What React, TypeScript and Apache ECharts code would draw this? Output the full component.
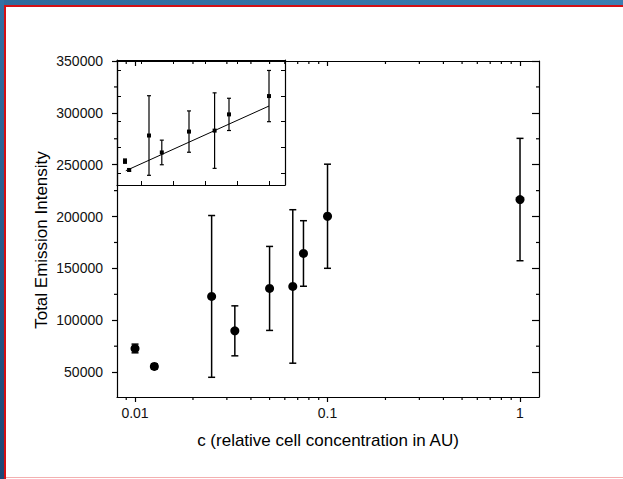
import React, { useEffect, useRef } from "react";
import * as echarts from "echarts";

// ---- data ----
const cValues = [0.01, 0.0126, 0.025, 0.033, 0.05, 0.066, 0.075, 0.1, 1];
const intensity = [72800, 55500, 123000, 89800, 130700, 132600, 164400, 200300, 216400];
const intensityErr = [4200, 2500, 78000, 24100, 40500, 74000, 31600, 50200, 59000];

// inset: linear-scale view of the low-concentration points and a linear fit
const insetCount = 8;
const fitC = [0.0105, 0.1];
const fitI = [54000, 180800];

// axis ranges & ticks
const mainXMin = 0.00806;
const mainXMax = 1.255;
const mainYMin = 26000;
const mainYMax = 350000;
const mainYTicks = [50000, 100000, 150000, 200000, 250000, 300000, 350000];
const mainYMinorTicks = [75000, 125000, 175000, 225000, 275000, 325000];
const mainXTicks = [0.01, 0.1, 1];
const mainXMinorTicks = [0.009, 0.02, 0.03, 0.04, 0.05, 0.06, 0.07, 0.08, 0.09, 0.2, 0.3, 0.4, 0.5, 0.6, 0.7, 0.8, 0.9];

const insetXMin = 0.005;
const insetXMax = 0.11;
const insetYMin = 26000;
const insetYMax = 271000;
const insetXTicks = [0.02, 0.04, 0.06, 0.08, 0.1];
const insetYTicks = [50000, 100000, 150000, 200000, 250000];

const xTitle = "c (relative cell concentration in AU)";
const yTitle = "Total Emission Intensity";

const FONT = "Liberation Sans, Arial, sans-serif";

export default function App() {
  const ref = useRef<HTMLDivElement>(null);

  useEffect(() => {
    if (!ref.current) return;
    const chart = echarts.init(ref.current, undefined, { renderer: "svg" });

    const mainData = cValues.map((c, i) => [c, intensity[i], intensityErr[i]]);
    const insetData = mainData.slice(0, insetCount);

    const errRender = (capHalf: number, lw: number) => (params: any, api: any) => {
      const x = api.value(0);
      const y = api.value(1);
      const e = api.value(2);
      const top = api.coord([x, y + e]);
      const bot = api.coord([x, y - e]);
      const style = { stroke: "#000", lineWidth: lw };
      return {
        type: "group",
        children: [
          { type: "line", shape: { x1: top[0], y1: top[1], x2: bot[0], y2: bot[1] }, style },
          { type: "line", shape: { x1: top[0] - capHalf, y1: top[1], x2: top[0] + capHalf, y2: top[1] }, style },
          { type: "line", shape: { x1: bot[0] - capHalf, y1: bot[1], x2: bot[0] + capHalf, y2: bot[1] }, style },
        ],
      };
    };

    const axisLine = { show: true, onZero: false, lineStyle: { color: "#000", width: 1.2 } };

    const option: any = {
      animation: false,
      backgroundColor: "#fff",
      graphic: [
        {
          type: "rect",
          z: -10,
          shape: { x: 0, y: 0, width: 623, height: 5 },
          style: {
            fill: new echarts.graphic.LinearGradient(0, 0, 1, 0, [
              { offset: 0, color: "#2f6a9c" },
              { offset: 1, color: "#3b7fb2" },
            ]),
          },
        },
        {
          type: "rect",
          z: -10,
          shape: { x: 0, y: 0, width: 4, height: 479 },
          style: {
            fill: new echarts.graphic.LinearGradient(0, 0, 0, 1, [
              { offset: 0, color: "#3270a3" },
              { offset: 1, color: "#1d4775" },
            ]),
          },
        },
        { type: "rect", z: -9, shape: { x: 4, y: 5, width: 619, height: 2 }, style: { fill: "#d40f14" } },
        { type: "rect", z: -9, shape: { x: 4, y: 5, width: 2, height: 474 }, style: { fill: "#d40f14" } },
        { type: "rect", z: -9, shape: { x: 6, y: 477, width: 617, height: 1 }, style: { fill: "#f3b0b0" } },
        {
          type: "text",
          x: 328,
          y: 440,
          style: {
            text: xTitle,
            fontSize: 17,
            fontFamily: FONT,
            fill: "#000",
            align: "center",
            verticalAlign: "middle",
          },
        },
        {
          type: "text",
          x: 41,
          y: 240,
          rotation: Math.PI / 2,
          style: {
            text: yTitle,
            fontSize: 17,
            fontFamily: FONT,
            fill: "#000",
            align: "center",
            verticalAlign: "middle",
          },
        },
      ],
      grid: [
        { left: 117, top: 61, width: 422, height: 336, show: false },
        { left: 117, top: 60, width: 168, height: 125, show: true, backgroundColor: "#fff", borderWidth: 0 },
      ],
      xAxis: [
        {
          type: "log",
          gridIndex: 0,
          position: "bottom",
          logBase: 10,
          min: mainXMin,
          max: mainXMax,
          axisLine,
          axisTick: { show: true, inside: false, length: 5, customValues: mainXTicks, lineStyle: { color: "#000", width: 1.2 } },
          axisLabel: {
            show: true,
            margin: 9,
            fontSize: 14,
            fontFamily: FONT,
            color: "#111",
            customValues: mainXTicks,
            formatter: (v: number) => String(+Number(v).toPrecision(6)),
          },
          splitLine: { show: false },
        },
        {
          type: "log",
          gridIndex: 0,
          position: "top",
          logBase: 10,
          min: mainXMin,
          max: mainXMax,
          axisLine,
          axisTick: { show: true, inside: true, length: 5, customValues: mainXTicks, lineStyle: { color: "#000", width: 1.2 } },
          axisLabel: { show: false },
          splitLine: { show: false },
        },
        {
          type: "value",
          gridIndex: 1,
          position: "bottom",
          min: insetXMin,
          max: insetXMax,
          axisLine,
          axisTick: { show: true, inside: true, length: 4, customValues: insetXTicks, lineStyle: { color: "#000" } },
          axisLabel: { show: false },
          splitLine: { show: false },
        },
        {
          type: "value",
          gridIndex: 1,
          position: "top",
          min: insetXMin,
          max: insetXMax,
          axisLine,
          axisTick: { show: true, inside: true, length: 4, customValues: insetXTicks, lineStyle: { color: "#000" } },
          axisLabel: { show: false },
          splitLine: { show: false },
        },
      ],
      yAxis: [
        {
          type: "value",
          gridIndex: 0,
          position: "left",
          min: mainYMin,
          max: mainYMax,
          axisLine,
          axisTick: { show: true, inside: false, length: 5, customValues: mainYTicks, lineStyle: { color: "#000", width: 1.2 } },
          axisLabel: {
            show: true,
            margin: 14,
            fontSize: 14,
            fontFamily: FONT,
            color: "#111",
            customValues: mainYTicks,
            formatter: (v: number) => String(Math.round(v)),
          },
          splitLine: { show: false },
        },
        {
          type: "value",
          gridIndex: 0,
          position: "right",
          min: mainYMin,
          max: mainYMax,
          axisLine,
          axisTick: { show: true, inside: true, length: 7, customValues: mainYTicks, lineStyle: { color: "#000", width: 1.2 } },
          axisLabel: { show: false },
          splitLine: { show: false },
        },
        {
          type: "value",
          gridIndex: 1,
          position: "left",
          min: insetYMin,
          max: insetYMax,
          axisLine,
          axisTick: { show: true, inside: true, length: 4, customValues: insetYTicks, lineStyle: { color: "#000" } },
          axisLabel: { show: false },
          splitLine: { show: false },
        },
        {
          type: "value",
          gridIndex: 1,
          position: "right",
          min: insetYMin,
          max: insetYMax,
          axisLine,
          axisTick: { show: true, inside: true, length: 4, customValues: insetYTicks, lineStyle: { color: "#000" } },
          axisLabel: { show: false },
          splitLine: { show: false },
        },
      ],
      series: [
        // log minor ticks on main x axes (bottom outward, top inward)
        {
          type: "custom",
          xAxisIndex: 0,
          yAxisIndex: 0,
          silent: true,
          data: mainXMinorTicks.map((v) => [v, mainYMin]),
          encode: { x: 0, y: 1 },
          renderItem: (params: any, api: any) => {
            const v = api.value(0);
            const b = api.coord([v, mainYMin]);
            const t = api.coord([v, mainYMax]);
            const style = { stroke: "#000", lineWidth: 1.2 };
            return {
              type: "group",
              children: [
                { type: "line", shape: { x1: b[0], y1: b[1], x2: b[0], y2: b[1] + 3 }, style },
                { type: "line", shape: { x1: t[0], y1: t[1], x2: t[0], y2: t[1] + 3 }, style },
              ],
            };
          },
        },
        // minor ticks on main y axes
        {
          type: "custom",
          xAxisIndex: 0,
          yAxisIndex: 0,
          silent: true,
          data: mainYMinorTicks.map((v) => [mainXMin, v]),
          encode: { x: 0, y: 1 },
          renderItem: (params: any, api: any) => {
            const v = api.value(1);
            const l = api.coord([mainXMin, v]);
            const r = api.coord([mainXMax, v]);
            const style = { stroke: "#000", lineWidth: 1.2 };
            return {
              type: "group",
              children: [
                { type: "line", shape: { x1: l[0] - 3, y1: l[1], x2: l[0], y2: l[1] }, style },
                { type: "line", shape: { x1: r[0] - 3, y1: r[1], x2: r[0], y2: r[1] }, style },
              ],
            };
          },
        },
        {
          type: "custom",
          xAxisIndex: 0,
          yAxisIndex: 0,
          data: mainData,
          encode: { x: 0, y: 1 },
          renderItem: errRender(3.5, 1.5),
        },
        {
          type: "scatter",
          xAxisIndex: 0,
          yAxisIndex: 0,
          data: mainData.map((d) => [d[0], d[1]]),
          symbol: "circle",
          symbolSize: 9,
          itemStyle: { color: "#000", opacity: 1 },
        },
        {
          type: "custom",
          xAxisIndex: 2,
          yAxisIndex: 2,
          data: insetData,
          encode: { x: 0, y: 1 },
          renderItem: errRender(2, 1.2),
        },
        {
          type: "scatter",
          xAxisIndex: 2,
          yAxisIndex: 2,
          data: insetData.map((d) => [d[0], d[1]]),
          symbol: "rect",
          symbolSize: 4,
          itemStyle: { color: "#000", opacity: 1 },
        },
        {
          type: "line",
          xAxisIndex: 2,
          yAxisIndex: 2,
          data: fitC.map((c, i) => [c, fitI[i]]),
          showSymbol: false,
          symbol: "none",
          lineStyle: { color: "#000", width: 1 },
        },
      ],
    };

    chart.setOption(option);
    return () => chart.dispose();
  }, []);

  return (
    <div
      ref={ref}
      style={{ position: "fixed", left: 0, top: 0, width: 623, height: 479 }}
    />
  );
}
